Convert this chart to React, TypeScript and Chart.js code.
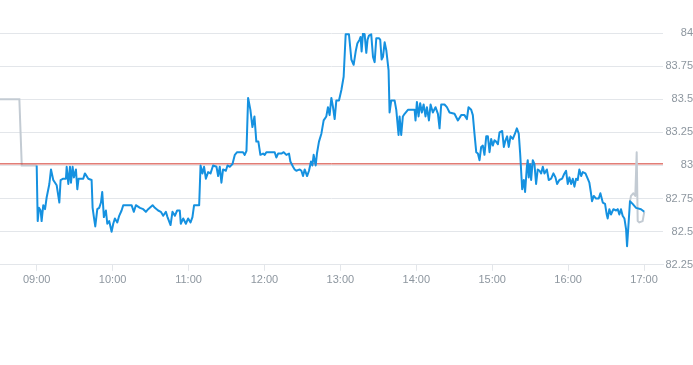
import React, { useEffect, useRef } from "react";
import { Chart, registerables } from "chart.js";

Chart.register(...registerables);

// Times are minutes since midnight (540 = 09:00)
const preTimes = [511, 526.3, 528.2, 540];
const prePrices = [83.5, 83.5, 83.0, 83.0];

const sessionTimes = [
  540.0, 540.8, 541.8, 543.1, 543.9, 545.2, 546.6, 547.9, 550.0, 551.3, 553.1, 555.8, 557.9, 558.9, 561.0,
  563.1, 563.7, 565.0, 566.3, 567.1, 568.4, 569.4, 571.0, 572.1, 573.1, 576.8, 578.1, 580.8, 583.4, 584.2,
  585.2, 586.3, 587.9, 589.4, 590.8, 591.8, 593.1, 594.7, 595.8, 597.3, 599.2, 600.5, 601.8, 603.7, 605.2,
  607.1, 608.4, 611.0, 615.0, 616.8, 618.4, 621.6, 624.2, 626.3, 628.1, 631.6, 633.4, 636.0, 638.1, 640.0,
  642.1, 643.4, 645.8, 647.3, 649.2, 651.0, 653.1, 653.9, 655.8, 657.9, 659.7, 661.6, 663.1, 664.4, 668.4,
  669.5, 671.0, 672.3, 673.7, 675.5, 677.4, 679.4, 682.1, 683.4, 684.7, 686.0, 687.3, 689.5, 690.8, 692.6,
  694.7, 696.6, 698.4, 703.1, 704.4, 705.8, 707.1, 708.9, 710.5, 712.1, 713.6, 715.2, 716.8, 718.9, 720.2,
  721.5, 728.1, 729.4, 730.8, 733.4, 735.2, 737.3, 739.4, 740.5, 742.6, 743.9, 745.2, 747.9, 749.2, 750.5,
  751.8, 753.7, 755.2, 756.8, 757.9, 758.9, 760.5, 761.5, 763.1, 765.0, 766.8, 768.9, 770.2, 771.5, 772.9,
  774.2, 775.5, 776.8, 778.9, 780.8, 782.6, 784.2, 786.8, 788.7, 790.5, 792.1, 793.4, 795.2, 796.0, 796.8,
  797.9, 799.2, 800.5, 801.5, 802.6, 804.4, 805.8, 807.1, 808.4, 810.5, 811.5, 812.6, 813.7, 815.0, 816.3,
  818.1, 818.9, 820.2, 822.9, 824.2, 826.0, 826.8, 828.1, 829.4, 830.8, 833.4, 838.7, 839.4, 840.5, 841.8,
  843.1, 844.4, 845.8, 847.3, 848.4, 850.0, 851.3, 853.1, 855.2, 857.1, 858.4, 859.7, 862.3, 864.2, 866.3,
  870.2, 872.9, 875.5, 878.1, 880.0, 881.3, 883.4, 884.7, 886.0, 887.4, 888.7, 890.0, 891.3, 892.6, 893.9,
  895.3, 896.6, 897.9, 899.2, 900.5, 901.8, 903.1, 904.5, 905.8, 907.9, 909.2, 910.5, 911.8, 913.1, 914.5,
  916.3, 917.6, 919.5, 921.0, 922.1, 923.7, 925.0, 926.0, 927.4, 928.1, 928.9, 930.0, 930.8, 932.1, 933.4,
  934.7, 936.0, 937.4, 938.7, 940.0, 941.3, 943.2, 944.7, 946.6, 948.4, 950.0, 951.3, 953.1, 955.3, 957.1,
  958.4, 959.7, 961.0, 962.4, 963.7, 965.0, 966.3, 967.6, 968.9, 970.3, 971.6, 973.7, 975.5, 976.8, 978.1,
  978.9, 980.3, 982.1, 984.2, 985.5, 987.4, 989.2, 990.5, 991.3, 992.6, 993.9, 995.8, 997.9, 999.2, 1000.5,
  1001.8, 1003.1, 1004.5, 1005.8, 1006.6, 1007.9, 1008.9, 1011.0, 1013.7, 1017.6, 1020.2,
];

const sessionPrices = [
  83.0, 82.58, 82.68, 82.66, 82.58, 82.7, 82.67, 82.76, 82.86, 82.97, 82.89, 82.85, 82.72, 82.89, 82.9,
  82.9, 82.99, 82.86, 82.99, 82.87, 82.99, 82.91, 82.97, 82.82, 82.9, 82.9, 82.94, 82.9, 82.89, 82.68,
  82.61, 82.54, 82.67, 82.68, 82.72, 82.8, 82.61, 82.66, 82.56, 82.58, 82.5, 82.56, 82.6, 82.57, 82.62,
  82.66, 82.7, 82.7, 82.7, 82.65, 82.7, 82.68, 82.67, 82.65, 82.67, 82.7, 82.68, 82.66, 82.65, 82.62,
  82.65, 82.61, 82.55, 82.65, 82.62, 82.66, 82.66, 82.56, 82.6, 82.56, 82.6, 82.57, 82.61, 82.7, 82.7,
  83.0, 82.94, 82.99, 82.9, 82.95, 82.94, 83.0, 82.99, 82.92, 82.99, 82.87, 82.97, 82.96, 83.0, 82.99,
  83.01, 83.08, 83.1, 83.1, 83.08, 83.11, 83.51, 83.42, 83.29, 83.37, 83.18, 83.18, 83.08, 83.09, 83.08,
  83.1, 83.1, 83.06, 83.09, 83.09, 83.1, 83.08, 83.09, 83.03, 82.99, 82.97, 82.96, 82.97, 82.96, 82.92,
  82.97, 82.92, 82.96, 83.03, 83.0, 83.08, 83.0, 83.09, 83.18, 83.24, 83.34, 83.37, 83.44, 83.38, 83.51,
  83.44, 83.35, 83.49, 83.49, 83.57, 83.67, 83.99, 83.99, 83.8, 83.76, 83.86, 83.92, 83.95, 83.97, 83.86,
  84.0, 83.99, 83.85, 83.95, 83.98, 83.99, 83.82, 83.78, 83.96, 83.96, 83.95, 83.8, 83.82, 83.93, 83.87,
  83.72, 83.4, 83.49, 83.49, 83.42, 83.23, 83.37, 83.23, 83.37, 83.39, 83.42, 83.42, 83.34, 83.48, 83.37,
  83.47, 83.4, 83.46, 83.37, 83.44, 83.34, 83.46, 83.4, 83.44, 83.39, 83.28, 83.46, 83.46, 83.44, 83.4,
  83.39, 83.34, 83.38, 83.38, 83.35, 83.44, 83.42, 83.38, 83.24, 83.1, 83.09, 83.04, 83.14, 83.15, 83.08,
  83.22, 83.22, 83.1, 83.2, 83.15, 83.19, 83.18, 83.16, 83.25, 83.26, 83.14, 83.19, 83.22, 83.14, 83.22,
  83.2, 83.23, 83.28, 83.24, 83.09, 82.82, 82.89, 82.8, 82.99, 83.04, 82.91, 83.01, 82.89, 83.04, 83.01,
  82.86, 82.97, 82.96, 82.94, 82.99, 82.94, 82.97, 82.89, 82.9, 82.94, 82.91, 82.86, 82.89, 82.9, 82.94,
  82.96, 82.86, 82.91, 82.86, 82.9, 82.84, 82.9, 82.89, 82.97, 82.92, 82.95, 82.94, 82.9, 82.87, 82.79,
  82.73, 82.77, 82.75, 82.75, 82.79, 82.72, 82.71, 82.63, 82.6, 82.67, 82.63, 82.67, 82.66, 82.67, 82.63,
  82.67, 82.62, 82.6, 82.52, 82.39, 82.58, 82.73, 82.71, 82.68, 82.67, 82.65,
];

const postTimes = [1008.9, 1009.7, 1011.6, 1013.1, 1014.2, 1015.0, 1016.3, 1018.9, 1020.2];
const postPrices = [82.73, 82.77, 82.79, 82.77, 83.1, 82.58, 82.57, 82.58, 82.65];

const previousClose = 83.012;
const xMin = 511;
const xMax = 1035;
const hourTicks = [540, 600, 660, 720, 780, 840, 900, 960, 1020];
const yMin = 82.25;
const yMax = 84;
const yStep = 0.25;

const toPoints = (times: number[], values: number[]) =>
  times.map((t, i) => ({ x: t, y: values[i] }));

const fmtTime = (m: number) => {
  const h = Math.floor(m / 60);
  const mm = Math.round(m - h * 60);
  return `${String(h).padStart(2, "0")}:${String(mm).padStart(2, "0")}`;
};

const FONT = "'Liberation Sans', Arial, sans-serif";
const LABEL = "#8d969f";
const GRID = "#e3e6ea";

export default function App() {
  const ref = useRef<HTMLCanvasElement | null>(null);

  useEffect(() => {
    if (!ref.current) return;
    const chart = new Chart(ref.current, {
      type: "line",
      data: {
        datasets: [
          {
            data: toPoints(sessionTimes, sessionPrices),
            borderColor: "#1591e0",
            borderWidth: 2,
            pointRadius: 0,
            tension: 0,
            borderJoinStyle: "round",
            order: 0,
          },
          {
            data: toPoints(postTimes, postPrices),
            borderColor: "#c3cbd3",
            borderWidth: 2,
            pointRadius: 0,
            tension: 0,
            borderJoinStyle: "round",
            order: 1,
          },
          {
            data: toPoints([xMin, xMax], [previousClose, previousClose]),
            borderColor: "#d2372c",
            borderWidth: 1,
            pointRadius: 0,
            order: 2,
          },
          {
            data: toPoints(preTimes, prePrices),
            borderColor: "#c3cbd3",
            borderWidth: 2,
            pointRadius: 0,
            tension: 0,
            order: 3,
          },
        ],
      },
      options: {
        animation: false,
        responsive: true,
        maintainAspectRatio: false,
        layout: { padding: { top: 33, bottom: 75, left: 0, right: 0 } },
        plugins: { legend: { display: false }, tooltip: { enabled: false } },
        scales: {
          x: {
            type: "linear",
            min: xMin,
            max: xMax,
            afterBuildTicks: (scale: any) => {
              scale.ticks = hourTicks.map((v) => ({ value: v }));
            },
            grid: {
              drawOnChartArea: false,
              drawTicks: true,
              tickLength: 6,
              color: GRID,
            },
            border: { display: true, color: GRID },
            ticks: {
              autoSkip: false,
              maxRotation: 0,
              padding: 3,
              color: LABEL,
              font: { family: FONT, size: 11 },
              callback: (v: any) => fmtTime(Number(v)),
            },
          },
          y: {
            position: "right",
            min: yMin,
            max: yMax,
            afterFit: (scale: any) => {
              scale.width = 30;
            },
            grid: { color: GRID, drawTicks: false },
            border: { display: false },
            ticks: {
              stepSize: yStep,
              padding: 2,
              crossAlign: "far",
              color: LABEL,
              font: { family: FONT, size: 11 },
              callback: (v: any) => String(Number(Number(v).toFixed(2))),
            },
          },
        },
      },
    });
    return () => chart.destroy();
  }, []);

  return (
    <div style={{ position: "absolute", left: 0, top: 0, width: 693, height: 365 }}>
      <canvas ref={ref} />
    </div>
  );
}
